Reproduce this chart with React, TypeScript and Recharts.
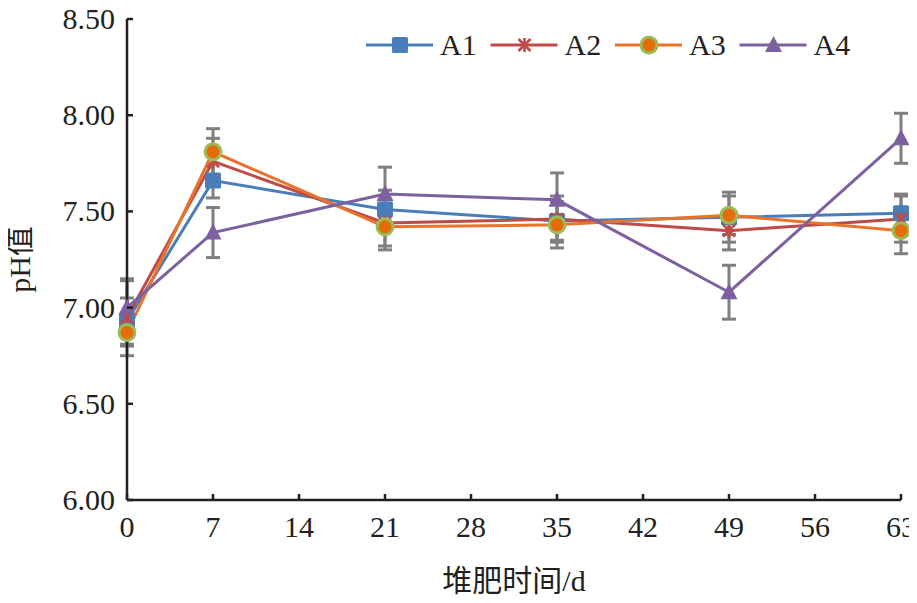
import {
  ErrorBar,
  Label,
  Line,
  LineChart,
  XAxis,
  YAxis,
} from "recharts";

const days = [0, 7, 21, 35, 49, 63];
const a1 = [6.93, 7.66, 7.51, 7.45, 7.47, 7.49];
const a2 = [6.95, 7.76, 7.44, 7.46, 7.4, 7.46];
const a3 = [6.87, 7.81, 7.42, 7.43, 7.48, 7.4];
const a4 = [7.0, 7.39, 7.59, 7.56, 7.08, 7.88];
const a1Err = [0.12, 0.09, 0.1, 0.1, 0.13, 0.1];
const a2Err = [0.2, 0.12, 0.12, 0.12, 0.1, 0.12];
const a3Err = [0.07, 0.12, 0.12, 0.12, 0.1, 0.12];
const a4Err = [0.14, 0.13, 0.14, 0.14, 0.14, 0.13];
const xTicks = [0, 7, 14, 21, 28, 35, 42, 49, 56, 63];
const yTicks = [6.0, 6.5, 7.0, 7.5, 8.0, 8.5];
const seriesNames = ["A1", "A2", "A3", "A4"];

const data = days.map((d, i) => ({
  day: d,
  A1: a1[i],
  A2: a2[i],
  A3: a3[i],
  A4: a4[i],
  e1: a1Err[i],
  e2: a2Err[i],
  e3: a3Err[i],
  e4: a4Err[i],
}));

const FONT = "Liberation Serif, Times New Roman, serif";
const CJK = "Liberation Serif, Noto Sans CJK SC, serif";
const AXIS = "#231f20";
const ERR = "#7f7f7f";

const COLORS = {
  A1: "#4a7ebb",
  A2: "#be4b48",
  A3: "#e8742c",
  A4: "#7d60a0",
};

const Marker = ({ name, cx, cy }: { name: string; cx: number; cy: number }) => {
  if (name === "A1")
    return <rect x={cx - 8} y={cy - 8} width={16} height={16} rx={1.5} fill={COLORS.A1} />;
  if (name === "A2")
    return (
      <g stroke={COLORS.A2} strokeWidth={2.6}>
        <line x1={cx - 6} y1={cy - 6} x2={cx + 6} y2={cy + 6} />
        <line x1={cx - 6} y1={cy + 6} x2={cx + 6} y2={cy - 6} />
        <line x1={cx} y1={cy - 7} x2={cx} y2={cy + 7} />
      </g>
    );
  if (name === "A3")
    return <circle cx={cx} cy={cy} r={8} fill="#e46c0a" stroke="#9bbb59" strokeWidth={3} />;
  return (
    <path
      d={`M${cx},${cy - 9} L${cx + 8.5},${cy + 7} L${cx - 8.5},${cy + 7} Z`}
      fill={COLORS.A4}
    />
  );
};

const dotFor = (name: string) => (props: any) => (
  <Marker key={`${name}-${props.index}`} name={name} cx={props.cx} cy={props.cy} />
);

const XTick = ({ x, y, payload }: any) => (
  <g>
    <line x1={x} y1={y} x2={x} y2={y - 6} stroke={AXIS} strokeWidth={2.5} />
    <text x={x} y={y + 37} textAnchor="middle" style={{ fontFamily: FONT }} fontSize={30} fill={AXIS}>
      {payload.value}
    </text>
  </g>
);

const YTick = ({ x, y, payload }: any) => (
  <g>
    <line x1={x} y1={y} x2={x + 6} y2={y} stroke={AXIS} strokeWidth={2.5} />
    <text x={x - 12} y={y + 10} textAnchor="end" style={{ fontFamily: FONT }} fontSize={30} fill={AXIS}>
      {Number(payload.value).toFixed(2)}
    </text>
  </g>
);

const LegendBox = () => (
  <svg
    width={500}
    height={40}
    style={{ position: "absolute", left: 358, top: 17, overflow: "visible" }}
  >
    {seriesNames.map((n, i) => {
      const x0 = i * 124.5;
      return (
        <g key={n}>
          <line x1={x0} y1={20} x2={x0 + 67} y2={20} stroke={COLORS[n as keyof typeof COLORS]} strokeWidth={3} />
          <Marker name={n} cx={x0 + 34} cy={20} />
          <text x={x0 + 74} y={30} style={{ fontFamily: FONT }} fontSize={30} fill={AXIS}>
            {n}
          </text>
        </g>
      );
    })}
  </svg>
);

export default function App() {
  return (
    <div style={{ position: "relative", width: 909, height: 587 }}>
      <style>{"html{overflow:hidden}.recharts-surface{overflow:visible;display:block}"}</style>
      <LineChart
        width={909}
        height={587}
        data={data}
        margin={{ top: 11, right: 16, bottom: 0, left: 0 }}
      >
        <XAxis
          dataKey="day"
          type="number"
          domain={[0, 63]}
          ticks={xTicks}
          tick={<XTick />}
          tickLine={false}
          tickSize={0}
          tickMargin={0}
          height={95}
          stroke={AXIS}
          strokeWidth={2.5}
          interval={0}
        >
          <Label
            content={({ viewBox }: any) => (
              <text
                x={viewBox.x + viewBox.width / 2}
                y={viewBox.y + 91}
                textAnchor="middle"
                style={{ fontFamily: CJK }}
                fontSize={30}
                fill={AXIS}
              >
                堆肥时间/d
              </text>
            )}
          />
        </XAxis>
        <YAxis
          type="number"
          domain={[6, 8.5]}
          ticks={yTicks}
          tick={<YTick />}
          tickLine={false}
          tickSize={0}
          tickMargin={0}
          width={119}
          stroke={AXIS}
          strokeWidth={2.5}
          interval={0}
        >
          <Label
            content={({ viewBox }: any) => {
              const cx = 11;
              const cy = viewBox.y + viewBox.height / 2;
              return (
                <text
                  x={cx}
                  y={cy}
                  transform={`rotate(-90 ${cx} ${cy})`}
                  textAnchor="middle"
                  dominantBaseline="central"
                  style={{ fontFamily: CJK }}
                  fontSize={30}
                  fill={AXIS}
                >
                  pH值
                </text>
              );
            }}
          />
        </YAxis>
        <Line
          dataKey="A1"
          stroke={COLORS.A1}
          strokeWidth={3}
          dot={dotFor("A1")}
          activeDot={false}
          isAnimationActive={false}
        >
          <ErrorBar dataKey="e1" direction="y" width={7} stroke={ERR} strokeWidth={3} />
        </Line>
        <Line
          dataKey="A2"
          stroke={COLORS.A2}
          strokeWidth={3}
          dot={dotFor("A2")}
          activeDot={false}
          isAnimationActive={false}
        >
          <ErrorBar dataKey="e2" direction="y" width={7} stroke={ERR} strokeWidth={3} />
        </Line>
        <Line
          dataKey="A3"
          stroke={COLORS.A3}
          strokeWidth={3}
          dot={dotFor("A3")}
          activeDot={false}
          isAnimationActive={false}
        >
          <ErrorBar dataKey="e3" direction="y" width={7} stroke={ERR} strokeWidth={3} />
        </Line>
        <Line
          dataKey="A4"
          stroke={COLORS.A4}
          strokeWidth={3}
          dot={dotFor("A4")}
          activeDot={false}
          isAnimationActive={false}
        >
          <ErrorBar dataKey="e4" direction="y" width={7} stroke={ERR} strokeWidth={3} />
        </Line>
      </LineChart>
      <LegendBox />
    </div>
  );
}
